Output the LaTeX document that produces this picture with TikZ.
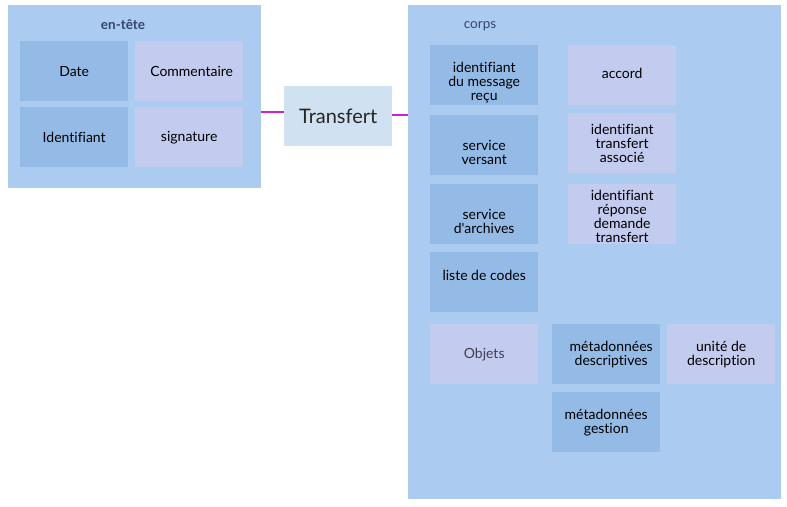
\documentclass[tikz,border=0pt]{standalone}
\usepackage{fontspec}
\setmainfont{Lato}[Ligatures={TeXOff,CommonOff}]
\definecolor{outerbg}{HTML}{ACCBF1}
\definecolor{darkbox}{HTML}{93BBE6}
\definecolor{lavbox}{HTML}{C3CBEE}
\definecolor{transbg}{HTML}{D0E1F1}
\definecolor{labelc}{HTML}{34466A}
\definecolor{linkc}{HTML}{CC22CC}
\definecolor{objtext}{HTML}{404052}
\begin{document}
\begin{tikzpicture}[x=1pt,y=-1pt,
  container/.style={fill=outerbg, draw=none, inner sep=0pt, anchor=north west},
  boxtext/.style={align=center, inner sep=0pt, font=\fontsize{14}{14}\selectfont},
  dbox/.style={boxtext, fill=darkbox, draw=none, minimum width=108pt, minimum height=60pt, anchor=north west},
  lbox/.style={dbox, fill=lavbox},
  grouplabel/.style={text=labelc, font=\fontsize{13.5}{14}\selectfont},
  link/.style={draw=linkc, line width=1.8pt}]
\useasboundingbox (0,0) rectangle (787,506);
% containers
\node[container, minimum width=253pt, minimum height=183pt] (entete) at (8,5) {};
\node[container, minimum width=373pt, minimum height=494pt] (corps) at (408,5) {};
\node[grouplabel, font=\bfseries\fontsize{13.5}{14}\selectfont] (enteteLbl) at (123,25) {en-tête};
\node[grouplabel] (corpsLbl) at (480,26) {corps};
% header
\node[dbox] (date) at (20,41) {Date};
\node[lbox] (comm) at (135,41) {\hspace*{5pt}Commentaire};
\node[dbox] (ident) at (20,107) {Identifiant};
\node[lbox] (sig) at (135,107) {signature};
% transfert
\node[fill=transbg, minimum width=108pt, minimum height=60pt, anchor=north west, inner sep=0pt, font=\fontsize{20}{22}\selectfont, text=black!85] (transfert) at (284,86) {Transfert};
% body left column
\node[dbox] (idmsg) at (430,45) {};
\node[boxtext] (idmsgT) at ([yshift=-7pt]idmsg.center) {identifiant\\du message\\reçu};
\node[dbox] (sv) at (430,115) {};
\node[boxtext] (svT) at ([yshift=-7pt]sv.center) {service\\versant};
\node[dbox] (sa) at (430,184) {};
\node[boxtext] (saT) at ([yshift=-7pt]sa.center) {service\\d'archives};
\node[dbox] (codes) at (430,252) {};
\node[boxtext] (codesT) at ([yshift=7pt]codes.center) {liste de codes};
\node[lbox, text=objtext] (objets) at (430,324) {Objets};
% body right column
\node[lbox] (accord) at (568,45) {};
\node[boxtext] (accordT) at ([yshift=2pt]accord.center) {accord};
\node[lbox] (idtr) at (568,113) {identifiant\\transfert\\associé};
\node[lbox] (idrep) at (568,184) {};
\node[boxtext] (idrepT) at ([yshift=-2pt]idrep.center) {identifiant\\réponse\\demande\\transfert};
\node[dbox] (metadesc) at (552,324) {};
\node[boxtext] (metadescT) at ([xshift=5pt]metadesc.center) {métadonnées\\descriptives};
\node[lbox] (unite) at (667,324) {unité de\\description};
\node[dbox] (metagest) at (552,392) {métadonnées\\gestion};
% links
\draw[link] ([yshift=4pt]transfert.west) -- ([yshift=4pt]transfert.west -| entete.east);
\draw[link] ([yshift=1pt]transfert.east) -- ([yshift=1pt]transfert.east -| corps.west);
\end{tikzpicture}
\end{document}
